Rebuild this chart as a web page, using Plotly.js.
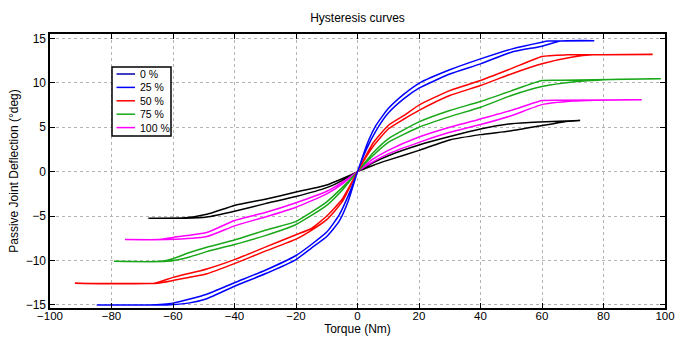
<!DOCTYPE html>
<html><head><meta charset="utf-8">
<script src="https://cdn.plot.ly/plotly-3.0.1.min.js"></script>
<style>html,body{margin:0;padding:0;background:#fff}#chart{width:677px;height:338px}</style>
</head><body><div id="chart"></div>
<script>
// ---- data ----
// Blue loop (25 %)
const blueLoadX   = [-84.8,-62,-55,-49,-40,-30,-20,-15,-10,-6,-3,0,3,6,10,15,20,30,40,50,60,66,77];
const blueLoadY   = [-15.0,-15.0,-14.8,-14.3,-12.9,-11.5,-9.9,-8.6,-7.3,-5.6,-3.3,0,2.6,4.6,6.6,8.2,9.4,11.0,12.14,13.45,14.13,14.7,14.75];
const blueUnloadX = [77,62,60,50,40,30,20,15,10,6,3,0,-3,-6,-10,-15,-20,-30,-40,-49,-60,-68,-84.8];
const blueUnloadY = [14.75,14.7,14.58,13.8,12.7,11.47,9.95,8.7,7.1,5.2,3.0,0,-2.7,-4.9,-6.8,-8.2,-9.44,-11.1,-12.5,-13.8,-14.8,-15.0,-15.0];
// Red loop (50 %)
const redLoadX   = [-91.9,-65,-60,-49,-40,-30,-20,-15,-10,-5,0,5,10,15,20,30,40,50,60,70,76.6,96];
const redLoadY   = [-12.55,-12.55,-12.25,-11.5,-10.35,-8.95,-7.6,-6.6,-5.4,-3.4,0,2.8,4.8,5.9,6.9,8.57,9.7,11.0,12.14,12.9,13.15,13.2];
const redUnloadX = [96,68,60,50,40,30,20,15,10,5,0,-5,-10,-15,-20,-30,-40,-49,-60,-66,-91.9];
const redUnloadY = [13.2,13.15,12.97,11.6,10.26,9.13,7.5,6.3,5.2,3.2,0,-3.1,-5.0,-6.4,-7.1,-8.5,-9.9,-10.95,-11.9,-12.55,-12.55];
// Green loop (75 %)
const greenLoadX   = [-79.2,-62,-54.6,-49,-40,-30,-20,-10,-5,0,5,10,20,30,40,50,60,70,85,98.6];
const greenLoadY   = [-10.1,-10.1,-9.6,-9.0,-8.2,-7.2,-5.95,-3.8,-2.1,0,1.8,3.3,5.0,6.2,7.25,8.57,9.58,10.1,10.4,10.45];
const greenUnloadX = [98.6,66,60,50,40,30,20,10,5,0,-5,-10,-20,-30,-40,-49,-54.6,-60,-64,-79.2];
const greenUnloadY = [10.45,10.3,10.26,9.1,7.9,6.88,5.6,3.7,2.1,0,-1.8,-3.4,-5.6,-6.6,-7.7,-8.5,-9.1,-9.8,-10.1,-10.1];
// Magenta loop (100 %)
const magentaLoadX   = [-75.6,-62,-49,-40,-30,-20,-10,-5,0,5,10,20,30,40,50,60,70,77,92.4];
const magentaLoadY   = [-7.65,-7.65,-7.3,-6.1,-5.1,-4.0,-2.5,-1.4,0,1.1,2.0,3.3,4.43,5.3,6.3,7.55,7.95,8.05,8.1];
const magentaUnloadX = [92.4,65,60,50,40,30,20,10,5,0,-5,-10,-20,-30,-40,-49,-60,-65,-75.6];
const magentaUnloadY = [8.1,8.05,8.0,6.9,5.94,5.0,3.9,2.4,1.4,0,-1.2,-2.2,-3.5,-4.6,-5.5,-6.85,-7.4,-7.65,-7.65];
// Black loop (not listed in the legend)
const blackLoadX   = [-68,-56,-49,-40,-30,-20,-10,-5,0,5,10,20,30,40,50,60,67,72.4];
const blackLoadY   = [-5.25,-5.25,-5.1,-4.45,-3.6,-2.8,-1.8,-1.0,0,0.7,1.3,2.4,3.57,4.17,4.6,5.19,5.6,5.75];
const blackUnloadX = [72.4,59,50,40,30,20,10,5,0,-5,-10,-20,-30,-40,-49,-56,-68];
const blackUnloadY = [5.75,5.6,5.4,4.8,3.95,3.0,1.8,1.0,0,-0.8,-1.5,-2.3,-3.1,-3.8,-4.8,-5.2,-5.25];

const legendLabels = ['0 %','25 %','50 %','75 %','100 %'];
const xTicks = [-100,-80,-60,-40,-20,0,20,40,60,80,100];
const yTicks = [-15,-10,-5,0,5,10,15];

// ---- styles ----
const legendColors = ['#0000b0','#0000ff','#ff0000','#1aa81a','#ff00ff'];
const FONT = 'Liberation Sans, Arial, Helvetica, sans-serif';

function loop(name, lx, ly, ux, uy, color) {
  return {x: lx.concat(ux), y: ly.concat(uy), type: 'scatter', mode: 'lines', name: name,
          line: {color: color, width: 1.5, shape: 'spline', smoothing: 0.5},
          showlegend: false, hoverinfo: 'skip'};
}
const traces = [
  loop('black loop', blackLoadX, blackLoadY, blackUnloadX, blackUnloadY, '#000000'),
  loop('100 %', magentaLoadX, magentaLoadY, magentaUnloadX, magentaUnloadY, legendColors[4]),
  loop('75 %', greenLoadX, greenLoadY, greenUnloadX, greenUnloadY, legendColors[3]),
  loop('50 %', redLoadX, redLoadY, redUnloadX, redUnloadY, legendColors[2]),
  loop('25 %', blueLoadX, blueLoadY, blueUnloadX, blueUnloadY, legendColors[1])
];

// ---- layout ----
const W = 677, H = 338, M = {l: 50, r: 12, t: 34, b: 30};
const PW = W - M.l - M.r, PH = H - M.t - M.b;
const px2x = p => (p - M.l) / PW;
const py2y = p => 1 - (p - M.t) / PH;

const shapes = [{type: 'rect', xref: 'paper', yref: 'paper', layer: 'above',
  x0: px2x(112), x1: px2x(171), y0: py2y(136), y1: py2y(67),
  line: {color: '#000', width: 1.5}, fillcolor: '#fff'}];
const annotations = [];
const rows = [74, 87.4, 100.8, 114.2, 127.6];
legendLabels.forEach((lab, i) => {
  shapes.push({type: 'line', xref: 'paper', yref: 'paper', layer: 'above',
    x0: px2x(116.5), x1: px2x(135), y0: py2y(rows[i]), y1: py2y(rows[i]),
    line: {color: legendColors[i], width: 1.5}});
  annotations.push({xref: 'paper', yref: 'paper', x: px2x(137.5), y: py2y(rows[i]),
    xanchor: 'left', yanchor: 'middle', showarrow: false, text: lab,
    font: {family: FONT, size: 10.5, color: '#000'}});
});

const axisCommon = {
  showline: true, linecolor: '#000', linewidth: 1.6, mirror: 'ticks',
  ticks: 'inside', ticklen: 5, tickwidth: 1, tickcolor: '#000',
  showgrid: true, gridcolor: '#b4b4b4', griddash: 'dot', gridwidth: 1,
  zeroline: false, automargin: false,
  tickfont: {family: FONT, size: 12, color: '#000'}
};

const layout = {
  width: W, height: H, margin: M,
  paper_bgcolor: '#fff', plot_bgcolor: '#fff',
  showlegend: false,
  font: {family: FONT, color: '#000'},
  title: {text: 'Hysteresis curves', font: {family: FONT, size: 12, color: '#000'},
          x: 0.5, xref: 'paper', y: 1 - 18 / H, yref: 'container', yanchor: 'middle'},
  xaxis: Object.assign({}, axisCommon, {range: [-100, 100], tickvals: xTicks,
          ticklabelstandoff: -3,
          tickfont: {family: FONT, size: 11.5, color: '#000'},
          title: {text: 'Torque (Nm)', font: {family: FONT, size: 12, color: '#000'}, standoff: 0}}),
  yaxis: Object.assign({}, axisCommon, {range: [-15.35, 15.5], tickvals: yTicks,
          title: {text: 'Passive Joint Deflection (°deg)', font: {family: FONT, size: 12, color: '#000'}, standoff: 4}}),
  shapes: shapes, annotations: annotations
};

Plotly.newPlot('chart', traces, layout, {staticPlot: true, displayModeBar: false});
</script></body></html>
